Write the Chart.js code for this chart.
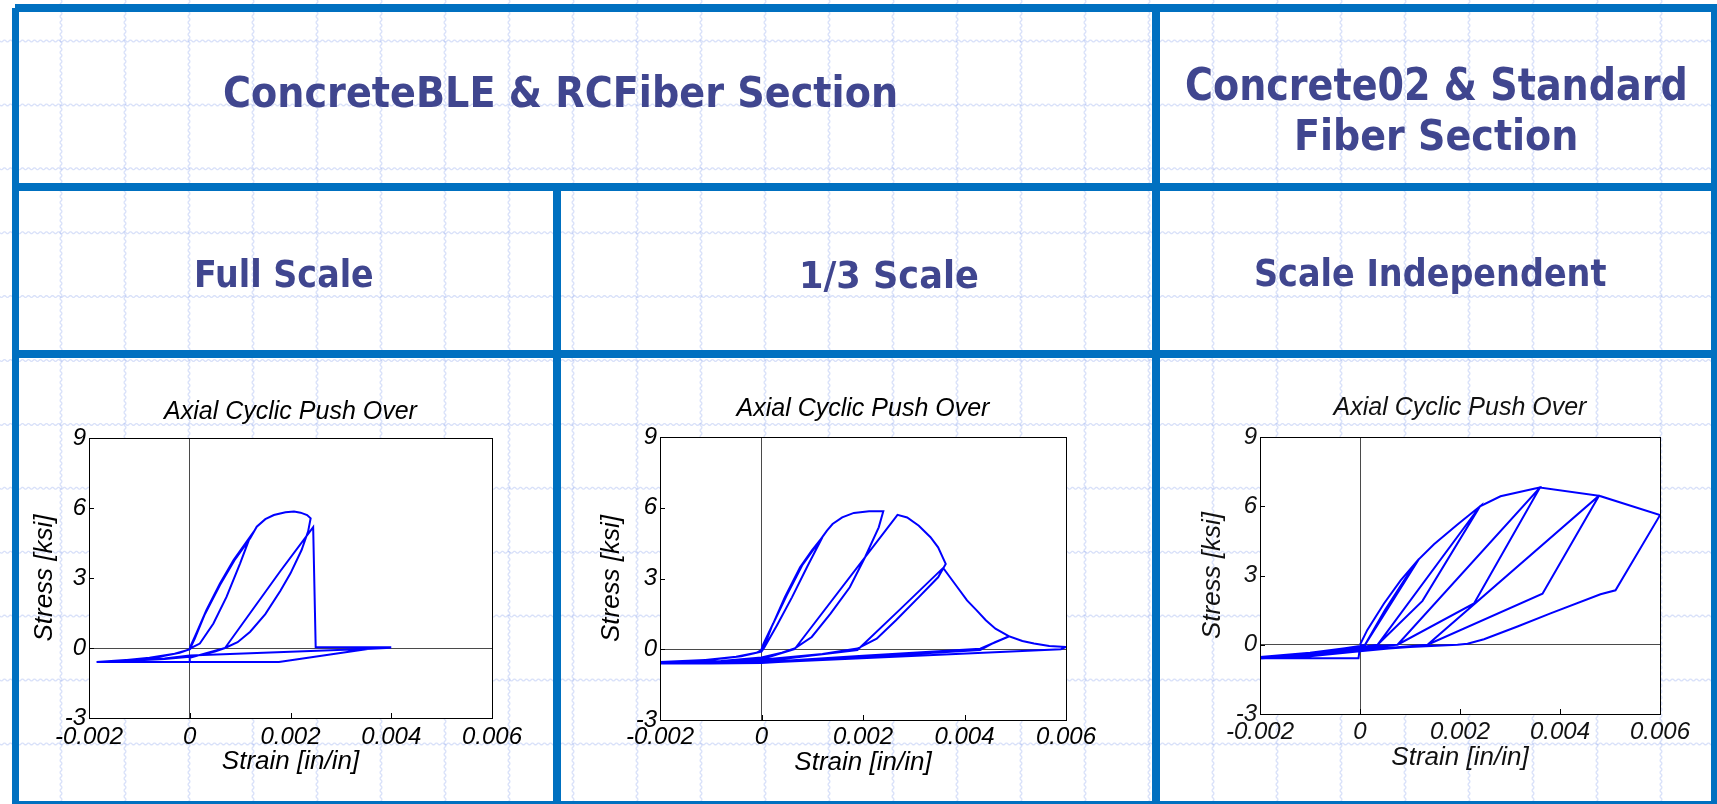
<!DOCTYPE html>
<html>
<head>
<meta charset="utf-8">
<title>Axial Cyclic Push Over</title>
<script src="https://cdn.jsdelivr.net/npm/chart.js@4.4.1/dist/chart.umd.min.js"></script>
<style>
  html, body { margin: 0; padding: 0; background: #ffffff; }
  body { width: 1717px; height: 804px; position: relative; overflow: hidden; }
  #paper { position: absolute; left: 0; top: 0; }
  .rule { position: absolute; background: #0070c0; }
  .head { position: absolute; white-space: nowrap; font-family: "DejaVu Sans", sans-serif; font-weight: bold;
          color: #40468f; transform-origin: 0 0; }
  canvas.plot { position: absolute; }
</style>
</head>
<body>
<canvas id="paper" width="1717" height="804"></canvas>

<!-- table rules -->
<div class="rule" style="left:15px;top:4px;width:1702px;height:8px"></div>
<div class="rule" style="left:12px;top:8px;width:7px;height:796px"></div>
<div class="rule" style="left:1711px;top:4px;width:6px;height:800px"></div>
<div class="rule" style="left:12px;top:801px;width:1705px;height:8px"></div>
<div class="rule" style="left:12px;top:183px;width:1705px;height:8px"></div>
<div class="rule" style="left:12px;top:350px;width:1705px;height:8px"></div>
<div class="rule" style="left:1152px;top:4px;width:8px;height:800px"></div>
<div class="rule" style="left:553px;top:183px;width:8px;height:621px"></div>

<canvas id="cFull" class="plot"></canvas>
<canvas id="cThird" class="plot"></canvas>
<canvas id="cC02" class="plot"></canvas>

<script>
// ---- axis ticks and labels ----
const strainTicks = [-0.002, 0, 0.002, 0.004, 0.006];
const stressTicks = [-3, 0, 3, 6, 9];
const plotTitle = 'Axial Cyclic Push Over';
const strainLabel = 'Strain [in/in]';
const stressLabel = 'Stress [ksi]';

// ---- ConcreteBLE & RCFiber section, full scale (load path in order) ----
const strainFull = [
  0, 0.00013, 0.00033, 0.0006, 0.00087, 0.0012,
  0.001, 0.00073, 0.00047, 0.0002, 0.00003,
  0, -0.0003, -0.0008, -0.0013, -0.00185,
  -0.0012, -0.0006, -0.0002, 0, 0.0001, 0.0003, 0.0006, 0.0009, 0.0012, 0.00133, 0.0015, 0.00167, 0.0019, 0.00207, 0.0022, 0.00233, 0.0024,
  0.00235, 0.00222, 0.002, 0.0018, 0.0015, 0.0012, 0.00095, 0.0007,
  0.0005, 0.0002, 0, -0.0005, -0.0012, -0.00185,
  -0.001, 0, 0, 0.0007, 0.0012, 0.0018, 0.00245,
  0.0025, 0.004,
  0.00367, 0.00177, -0.00185,
  -0.0012, -0.0005, 0, 0.0036, 0.004
];
const stressFull = [
  0, 0.62, 1.62, 2.77, 3.77, 4.77,
  3.63, 2.19, 1.05, 0.19, 0.01,
  -0.06, -0.25, -0.42, -0.52, -0.6,
  -0.5, -0.38, -0.2, -0.05, 0.4, 1.45, 2.7, 3.8, 4.7, 5.2, 5.52, 5.7, 5.82, 5.85, 5.8, 5.7, 5.56,
  5.0, 4.2, 3.2, 2.45, 1.45, 0.7, 0.25, 0,
  -0.15, -0.3, -0.38, -0.47, -0.55, -0.6,
  -0.6, -0.6, -0.42, 0, 1.5, 3.3, 5.18,
  0.03, 0.03,
  0, -0.6, -0.6,
  -0.55, -0.45, -0.32, -0.03, 0.01
];

// ---- ConcreteBLE & RCFiber section, 1/3 scale ----
const strainThird = [
  0, 0.00004, 0.00023, 0.00046, 0.00076, 0.00099, 0.0012,
  0.0009, 0.0006, 0.0003, 0.00005,
  0, -0.0004, -0.001, -0.002,
  -0.0012, -0.0005, -0.0001, 0.00003, 0.0002, 0.0005, 0.0008, 0.00118, 0.00129, 0.0014, 0.00159, 0.00182, 0.00212, 0.0024,
  0.00231, 0.00204, 0.00174, 0.00136, 0.00099, 0.00065,
  0.0004, 0, -0.0008, -0.002,
  -0.001, 0, 0.00065, 0.00268, 0.00287, 0.0031, 0.00333, 0.00348, 0.00363,
  0.00348, 0.0031, 0.00265, 0.00227, 0.00189,
  0.0012, 0, -0.001, -0.002,
  -0.001, 0, 0.00189, 0.00272, 0.00358, 0.00386, 0.00405, 0.00424, 0.00442, 0.00461, 0.00488,
  0.00431, 0.002, 0, -0.002,
  -0.001, 0, 0.00431, 0.0046, 0.00488, 0.00514, 0.00537, 0.00567, 0.006,
  0.0059, 0, -0.002
];
const stressThird = [
  0, 0.24, 1.09, 2.21, 3.48, 4.18, 4.75,
  3.5, 2.2, 1.0, 0.05,
  -0.1, -0.3, -0.45, -0.54,
  -0.48, -0.32, -0.15, 0, 0.95, 2.3, 3.55, 4.7, 5.03, 5.31, 5.59, 5.78, 5.85, 5.85,
  5.17, 3.9, 2.63, 1.51, 0.52, 0.03,
  -0.15, -0.35, -0.5, -0.57,
  -0.52, -0.42, 0, 5.7, 5.59, 5.24, 4.75, 4.32, 3.62,
  3.05, 2.21, 1.23, 0.45, 0.03,
  -0.2, -0.45, -0.55, -0.6,
  -0.58, -0.52, -0.03, 1.67, 3.45, 2.63, 2.07, 1.65, 1.23, 0.87, 0.55,
  0.02, -0.28, -0.55, -0.6,
  -0.6, -0.58, -0.03, 0.3, 0.55, 0.35, 0.24, 0.14, 0.1,
  0, -0.57, -0.6
];

// ---- Concrete02 & standard fiber section ----
const strainC02 = [
  0, 0.000147, 0.00048, 0.000813, 0.00118,
  0.0009, 0.0005, 0.0001,
  0, -0.0006, -0.0013, -0.002,
  -0.001, -0.0003, 0, 0.0001, 0.00118, 0.00148, 0.00195, 0.0024,
  0.00125, 0.00035,
  0.0001, 0, -0.0008, -0.002,
  -0.001, 0, 0.00035, 0.0024, 0.00281, 0.00348, 0.0036,
  0.00228, 0.00075,
  0.0003, 0, -0.001, -0.002,
  -0.00003, 0, 0.00075, 0.0036, 0.00478,
  0.00365, 0.00135,
  0.0005, 0, -0.001, -0.002,
  -0.001, 0, 0.00135, 0.00478, 0.006,
  0.00511, 0.00481, 0.00381, 0.00315, 0.00248, 0.00215, 0.00195,
  0.001, 0, -0.001, -0.002
];
const stressC02 = [
  0, 0.643, 1.786, 2.786, 3.714,
  2.85, 1.5, 0,
  -0.12, -0.3, -0.45, -0.53,
  -0.35, -0.15, -0.05, 0, 3.714, 4.357, 5.214, 6.0,
  1.9, 0,
  -0.08, -0.15, -0.38, -0.56,
  -0.45, -0.2, 0, 6.0, 6.43, 6.757, 6.814,
  1.79, 0,
  -0.12, -0.22, -0.45, -0.58,
  -0.58, -0.1, 0, 6.814, 6.457,
  2.21, 0,
  -0.15, -0.27, -0.48, -0.6,
  -0.5, -0.28, 0, 6.457, 5.614,
  2.36, 2.19, 1.36, 0.79, 0.24, 0.04, 0,
  -0.1, -0.25, -0.45, -0.55
];

// ---- graph-paper background ----
(function drawPaper() {
  const g = document.getElementById('paper').getContext('2d');
  g.strokeStyle = 'rgba(150,172,238,0.36)';
  g.lineWidth = 1.3;
  for (let x = -3; x < 1720; x += 64) {
    g.beginPath();
    for (let y = 0; y <= 804; y++) {
      const px = x + Math.sin(y * Math.PI / 3) * 1.0;
      if (y === 0) g.moveTo(px, y); else g.lineTo(px, y);
    }
    g.stroke();
  }
  for (let y = 41; y < 806; y += 63.9) {
    g.beginPath();
    for (let x = 0; x <= 1717; x++) {
      const py = y + Math.sin(x * Math.PI / 3) * 1.0;
      if (x === 0) g.moveTo(x, py); else g.lineTo(x, py);
    }
    g.stroke();
  }
})();

// ---- table headings ----
const headerLayout = [
  { text: 'ConcreteBLE & RCFiber Section', left: 225, right: 896, base: 107, size: 43 },
  { text: 'Concrete02 & Standard', left: 1187, right: 1685, base: 100, size: 44 },
  { text: 'Fiber Section', left: 1297, right: 1576, base: 150, size: 42 },
  { text: 'Full Scale', left: 197, right: 373, base: 287, size: 37 },
  { text: '1/3 Scale', left: 803, right: 978, base: 288, size: 37 },
  { text: 'Scale Independent', left: 1256, right: 1606, base: 286, size: 37 }
];
(function placeHeadings() {
  const m = document.createElement('canvas').getContext('2d');
  headerLayout.forEach(h => {
    const font = 'bold ' + h.size + 'px "DejaVu Sans"';
    m.font = font;
    const met = m.measureText(h.text);
    const inkW = met.actualBoundingBoxLeft + met.actualBoundingBoxRight;
    const sx = (h.right - h.left) / inkW;
    const asc = met.fontBoundingBoxAscent, desc = met.fontBoundingBoxDescent;
    const baseOff = (h.size - (asc + desc)) / 2 + asc;
    const d = document.createElement('div');
    d.className = 'head';
    d.textContent = h.text;
    d.style.fontSize = h.size + 'px';
    d.style.lineHeight = h.size + 'px';
    d.style.left = (h.left + met.actualBoundingBoxLeft * sx) + 'px';
    d.style.top = (h.base - baseOff) + 'px';
    d.style.transform = 'scaleX(' + sx + ')';
    document.body.appendChild(d);
  });
})();

// ---- plots ----
const FONT = '"Liberation Sans", Arial, Helvetica, sans-serif';
const TITLE_SIZE = 25, TICK_SIZE = 24, LABEL_SIZE = 26;
const CANVAS_TOP = 372, CANVAS_BOTTOM = 800, LEFT_ROOM = 72, RIGHT_ROOM = 45;

// white axes box, frame and inward tick marks
const axesBox = {
  id: 'axesBox',
  beforeDraw(chart) {
    const { ctx, chartArea: a } = chart;
    ctx.save();
    ctx.fillStyle = '#ffffff';
    ctx.fillRect(a.left, a.top, a.right - a.left, a.bottom - a.top);
    ctx.restore();
  },
  afterDatasetsDraw(chart) {
    const { ctx, chartArea: a, scales } = chart;
    ctx.save();
    ctx.strokeStyle = '#000000';
    ctx.lineWidth = 1;
    ctx.strokeRect(a.left + 0.5, a.top + 0.5, a.right - a.left, a.bottom - a.top);
    ctx.beginPath();
    strainTicks.slice(1, -1).forEach(v => {
      const px = Math.round(scales.x.getPixelForValue(v)) + 0.5;
      ctx.moveTo(px, a.bottom); ctx.lineTo(px, a.bottom - 5);
    });
    stressTicks.slice(1, -1).forEach(v => {
      const py = Math.round(scales.y.getPixelForValue(v)) + 0.5;
      ctx.moveTo(a.left, py); ctx.lineTo(a.left + 5, py);
    });
    ctx.stroke();
    ctx.restore();
  }
};

function makePlot(cfg) {
  const el = document.getElementById(cfg.id);
  const left = cfg.L - LEFT_ROOM;
  const width = cfg.R + RIGHT_ROOM - left;
  const height = CANVAS_BOTTOM - CANVAS_TOP;
  el.width = width; el.height = height;
  el.style.left = left + 'px'; el.style.top = CANVAS_TOP + 'px';
  el.style.width = width + 'px'; el.style.height = height + 'px';

  const tLH = TITLE_SIZE * 1.2, kLH = TICK_SIZE * 1.2, aLH = LABEL_SIZE * 1.2;
  const titleTop = cfg.titleY - CANVAS_TOP - tLH / 2;
  const titleBottom = cfg.T - CANVAS_TOP - titleTop - tLH;
  const xAxisH = CANVAS_BOTTOM - cfg.B;
  const xTickPad = cfg.tickY - cfg.B - kLH / 2;
  const xTitlePad = CANVAS_BOTTOM - cfg.xTitleY - aLH / 2;
  const yTitlePad = cfg.yTitleX - left - aLH / 2;

  const points = cfg.strain.map((s, i) => ({ x: s, y: cfg.stress[i] }));
  const zeroLine = c => (c.tick && c.tick.value === 0) ? '#4a4a4a' : 'rgba(0,0,0,0)';

  new Chart(el, {
    type: 'scatter',
    data: {
      datasets: [{
        data: points,
        showLine: true,
        borderColor: '#0000ff',
        backgroundColor: '#0000ff',
        borderWidth: 2,
        pointRadius: 0,
        pointHoverRadius: 0,
        tension: 0,
        fill: false
      }]
    },
    options: {
      responsive: false,
      animation: false,
      devicePixelRatio: 1,
      events: [],
      layout: { padding: { left: 0, top: 0, bottom: 0, right: RIGHT_ROOM } },
      plugins: {
        legend: { display: false },
        tooltip: { enabled: false },
        title: {
          display: true,
          fullSize: false,
          text: plotTitle,
          color: cfg.ink,
          font: { family: FONT, size: TITLE_SIZE, style: 'italic', weight: 'normal', lineHeight: 1.2 },
          padding: { top: titleTop, bottom: titleBottom }
        }
      },
      scales: {
        x: {
          type: 'linear',
          min: strainTicks[0],
          max: strainTicks[strainTicks.length - 1],
          afterBuildTicks: s => { s.ticks = strainTicks.map(v => ({ value: v })); },
          afterFit: s => { s.height = xAxisH; },
          ticks: {
            autoSkip: false, maxRotation: 0, minRotation: 0,
            padding: xTickPad, color: cfg.ink,
            font: { family: FONT, size: TICK_SIZE, style: 'italic', lineHeight: 1.2 },
            callback: v => String(v)
          },
          grid: { drawTicks: false, color: zeroLine, lineWidth: 1 },
          border: { display: false },
          title: {
            display: true, text: strainLabel, color: cfg.ink,
            font: { family: FONT, size: LABEL_SIZE, style: 'italic', lineHeight: 1.2 },
            padding: { top: 0, bottom: xTitlePad }
          }
        },
        y: {
          type: 'linear',
          min: stressTicks[0],
          max: stressTicks[stressTicks.length - 1],
          afterBuildTicks: s => { s.ticks = stressTicks.map(v => ({ value: v })); },
          afterFit: s => { s.width = LEFT_ROOM; },
          ticks: {
            padding: 3, color: cfg.ink,
            font: { family: FONT, size: TICK_SIZE, style: 'italic', lineHeight: 1.2 },
            callback: v => String(v)
          },
          grid: { drawTicks: false, color: zeroLine, lineWidth: 1 },
          border: { display: false },
          title: {
            display: true, text: stressLabel, color: cfg.ink,
            font: { family: FONT, size: LABEL_SIZE, style: 'italic', lineHeight: 1.2 },
            padding: { top: yTitlePad, bottom: 0 }
          }
        }
      }
    },
    plugins: [axesBox]
  });
}

makePlot({ id: 'cFull', strain: strainFull, stress: stressFull, L: 89, R: 492, T: 438, B: 718,
           titleY: 411.7, tickY: 737, xTitleY: 762, yTitleX: 45, ink: '#000000' });
makePlot({ id: 'cThird', strain: strainThird, stress: stressThird, L: 660, R: 1066, T: 437, B: 720,
           titleY: 408.7, tickY: 737, xTitleY: 763, yTitleX: 612, ink: '#000000' });
makePlot({ id: 'cC02', strain: strainC02, stress: stressC02, L: 1260, R: 1660, T: 437, B: 714,
           titleY: 408.4, tickY: 732, xTitleY: 758, yTitleX: 1213, ink: '#111111' });
</script>
</body>
</html>
